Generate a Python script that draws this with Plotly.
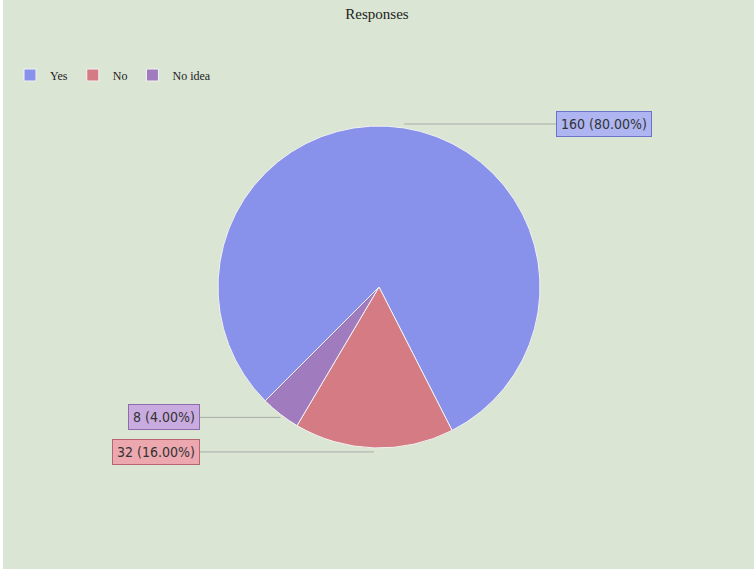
import math
import plotly.graph_objects as go

# ---- data ----
categories = ["Yes", "No", "No idea"]
values = [160, 32, 8]
colors = ["#8892EA", "#D57B84", "#A07CBE"]
box_fill = ["#AEB5F0", "#ECA8AE", "#C9ABDF"]
box_line = ["#6A74C8", "#B5666E", "#8E6BAA"]

W, H = 754, 569
CX, CY, R = 379, 287, 161      # pie center / radius in pixels
R_LEAD = 165                   # leader-line anchor radius
ROT = 225                      # start angle of first slice (clockwise from 12 o'clock)

total = sum(values)
labels_txt = [f"{v} ({v / total * 100:.2f}%)" for v in values]

fig = go.Figure()
fig.add_trace(go.Pie(
    labels=categories,
    values=values,
    marker=dict(colors=colors, line=dict(color="#F2F2F2", width=1)),
    sort=False,
    direction="clockwise",
    rotation=ROT,
    textinfo="none",
    hoverinfo="label+value+percent",
    domain=dict(x=[(CX - R) / W, (CX + R) / W], y=[1 - (CY + R) / H, 1 - (CY - R) / H]),
))

# leader lines + boxed labels
label_x_px = [556, 200, 200]   # label box inner edge (layout)
shapes = []
annotations = []
cum = 0
for i, v in enumerate(values):
    mid = ROT + (cum + v / 2) / total * 360
    cum += v
    a = math.radians(mid)
    px = CX + R * math.sin(a)
    py = CY - R_LEAD * math.cos(a)
    right = px > CX
    lx = label_x_px[i]
    shapes.append(dict(type="line", xref="paper", yref="paper",
                       x0=px / W, y0=1 - py / H, x1=lx / W, y1=1 - py / H,
                       line=dict(color="#A8AFA8", width=1)))
    annotations.append(dict(
        x=lx / W, y=1 - py / H, xref="paper", yref="paper",
        text=labels_txt[i], showarrow=False,
        xanchor="left" if right else "right", yanchor="middle",
        font=dict(family="DejaVu Sans Condensed, Liberation Sans, sans-serif", size=14, color="#333333"),
        bgcolor=box_fill[i], bordercolor=box_line[i], borderwidth=1, borderpad=4,
    ))

# white left strip like the reference
shapes.insert(0, dict(type="rect", xref="paper", yref="paper", x0=0, x1=3 / W, y0=0, y1=1,
                      fillcolor="white", line=dict(width=0), layer="below"))

fig.update_layout(
    width=W, height=H,
    margin=dict(l=0, r=0, t=0, b=0),
    paper_bgcolor="#DAE5D3",
    plot_bgcolor="#DAE5D3",
    title=dict(text="Responses", x=0.5, xanchor="center", y=1 - 14 / H, yanchor="middle",
               yref="container",
               font=dict(family="Liberation Serif, serif", size=15, color="#222222")),
    showlegend=True,
    legend=dict(orientation="h", x=10 / W, xanchor="left", y=1 - 75 / H, yanchor="middle",
                font=dict(family="Liberation Serif, serif", size=12, color="#222222"),
                bgcolor="rgba(0,0,0,0)", traceorder="normal"),
    shapes=shapes,
    annotations=annotations,
)

fig.write_html("out.html", config={"displayModeBar": False},
               post_script="document.body.style.margin='0px';")
